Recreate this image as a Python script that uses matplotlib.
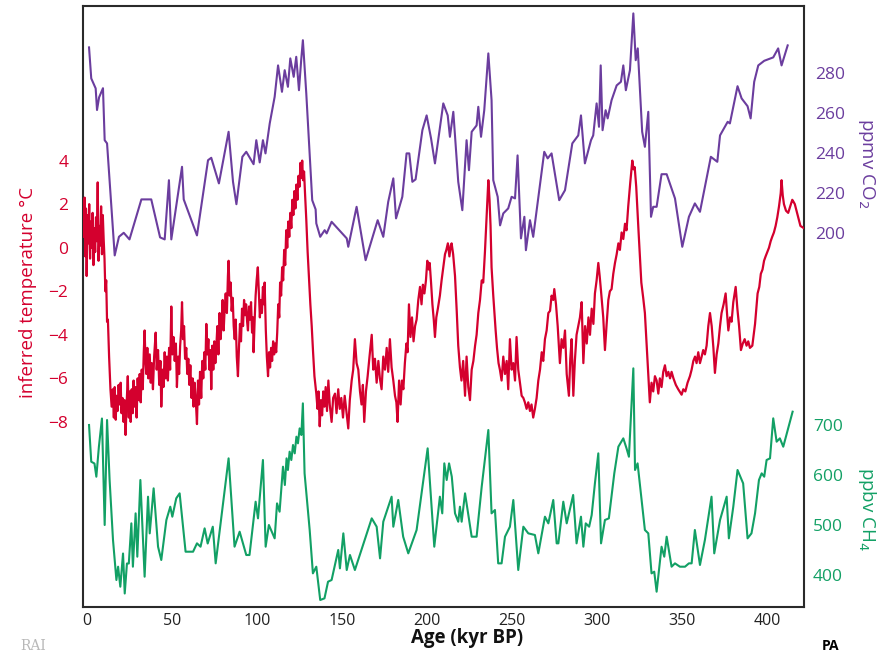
import matplotlib
matplotlib.use("Agg")
import matplotlib.pyplot as plt

plt.rcParams['font.family'] = ['Open Sans', 'DejaVu Sans']

# ---------------- data ----------------
# CO2 (ppmv) : (age kyr BP, value)
co2_points = [
    (1.2, 293), (2.5, 277.5), (5.1, 272.5), (5.9, 261.7), (7.1, 268), (9.4, 272.6), (10.4, 246.6),
    (11.8, 245), (16.3, 189), (18.8, 198.3), (21.6, 200.3), (25.0, 197), (32.0, 217), (37.8, 217),
    (43.0, 198), (45.7, 197), (48.2, 226.6), (49.6, 197), (55.9, 233.3), (56.9, 217), (64.7, 199),
    (71.2, 236.6), (73.1, 237.8), (77.6, 225), (83.3, 250.8), (85.9, 225.8), (87.9, 214.6),
    (91.4, 238.3), (93.7, 240.8), (98.0, 234.6), (99.6, 246.6), (101.6, 235.5), (103.5, 246.6),
    (105.0, 240), (107.5, 255), (110.4, 268.3), (112.4, 284), (114.7, 270.8), (116.3, 281.6),
    (118.2, 273.3), (119.6, 287.5), (121.6, 278.3), (123.1, 288.3), (124.7, 271.6), (126.0, 286.6),
    (127.0, 296.6), (129.0, 270), (132.5, 216.6), (134.5, 212), (134.9, 205), (137.2, 198.3),
    (139.8, 201.6), (141.0, 200), (143.9, 205.8), (152.8, 197.5), (153.7, 193.3), (158.6, 213.3),
    (163.9, 186.6), (171.0, 206.6), (174.3, 198.3), (177.2, 215.8), (180.2, 227.5), (181.8, 207.5),
    (185.5, 218.3), (188.0, 240), (189.6, 240), (191.4, 225.8), (193.3, 227), (197.3, 251.6),
    (199.8, 259), (202.4, 247.5), (204.7, 235), (209.6, 265), (212.2, 259), (213.5, 248.3),
    (215.5, 260.8), (218.4, 225.8), (220.8, 211.6), (223.3, 246.6), (224.7, 231.6), (226.3, 250.8),
    (229.2, 254), (230.2, 263.3), (231.8, 248.3), (233.7, 261.6), (236.1, 290), (238.0, 266.6),
    (239.0, 226.6), (241.6, 218.3), (243.0, 204), (244.9, 210), (247.8, 212.5), (249.8, 218.3),
    (251.8, 217.5), (253.3, 239), (255.3, 197.5), (257.3, 208.3), (258.2, 191.6), (260.6, 206.6),
    (262.5, 198.3), (269.0, 240.8), (271.0, 237.5), (273.3, 240), (277.8, 216.6), (281.2, 221.6),
    (285.5, 245), (289.0, 249), (290.6, 259), (292.9, 235), (296.5, 246.6), (297.8, 249),
    (299.8, 265), (301.2, 253.3), (302.2, 284), (303.3, 251.6), (305.1, 261.6), (306.3, 257.5),
    (308.6, 266.6), (311.6, 274), (314.1, 275.8), (315.5, 284), (317.0, 271.6), (319.4, 281.6),
    (321.4, 310), (322.8, 286.6), (324.0, 292.5), (326.6, 250.8), (328.2, 243.3), (330.2, 260.8),
    (331.8, 208.3), (333.1, 213.3), (335.1, 213.3), (338.0, 229.6), (341.0, 229.6), (345.9, 217.5),
    (350.2, 193.3), (354.1, 208.3), (357.6, 215), (360.6, 210.8), (367.0, 238.3), (370.8, 235.8),
    (372.4, 249), (376.9, 255.8), (378.2, 255), (382.7, 273.6), (385.1, 267.5), (388.6, 263.6),
    (390.4, 257.5), (392.5, 275.8), (394.9, 284), (398.4, 286.3), (403.7, 288), (406.6, 292.5),
    (408.6, 284), (412.2, 294),
]

# inferred temperature (deg C) : (age kyr BP, value)
temp_points = [
    (-1.8, 0.5), (-1.4, 2.3), (-1.0, -0.4), (-0.6, 1.8), (-0.2, -1.3), (0.3, 1.5), (0.8, 0.2),
    (1.3, 2.0), (1.8, -0.5), (2.3, 1.2), (2.8, 0.0), (3.3, 1.6), (3.8, -0.8), (4.3, 0.9),
    (4.8, -0.2), (5.3, 1.4), (5.8, 0.3), (6.3, 3.0), (6.8, -0.6), (7.3, 1.0), (7.8, 0.1),
    (8.3, 1.9), (8.8, -0.3), (9.3, 1.5), (9.8, 0.4), (10.3, -0.5), (10.8, -2.0), (11.3, -1.5),
    (11.8, -3.4), (12.3, -3.3), (13.0, -5.0), (13.8, -6.5),
    (14.5, -7.3), (15.2, -6.5), (15.8, -7.8), (16.3, -6.4), (16.9, -7.9), (17.4, -6.8),
    (18.0, -7.5), (18.6, -6.3), (19.2, -7.2), (19.8, -6.2), (20.3, -7.6), (20.9, -6.9),
    (21.5, -8.0), (22.1, -7.0), (22.7, -8.6), (23.3, -7.2), (24.0, -5.9), (24.6, -7.8),
    (25.2, -6.6), (25.7, -8.0), (26.3, -6.5), (26.9, -7.6), (27.4, -6.1), (28.0, -7.3),
    (28.6, -6.4), (29.2, -7.8), (29.8, -6.0), (30.4, -7.0), (31.0, -5.8), (31.6, -7.1),
    (32.2, -5.6), (32.8, -6.5), (33.4, -4.8), (33.9, -3.8),
    (34.4, -5.2), (34.9, -5.8), (35.5, -4.6), (36.1, -6.0), (36.9, -4.9), (37.5, -6.2),
    (38.1, -5.3), (38.8, -6.5), (39.5, -5.0), (40.4, -3.9), (41.0, -5.6), (41.8, -4.7),
    (42.5, -6.3), (43.2, -5.2), (43.7, -7.3), (44.4, -5.6), (45.0, -6.4), (45.7, -4.8),
    (46.3, -6.0), (47.0, -5.0), (47.6, -6.1), (48.3, -4.6), (48.9, -5.6), (49.6, -2.7),
    (50.2, -4.9), (50.9, -4.1), (51.6, -5.2), (52.3, -4.4), (52.9, -6.4), (53.6, -5.0),
    (54.2, -5.8), (54.8, -4.5), (55.4, -3.8), (55.9, -2.5), (56.5, -4.2), (57.1, -3.6),
    (57.7, -5.1), (58.4, -4.6), (59.0, -5.8),
    (59.6, -5.1), (60.2, -6.3), (60.8, -5.4), (61.5, -6.9), (62.1, -6.0), (62.7, -7.3),
    (63.3, -6.2), (64.0, -7.0), (64.7, -8.1), (65.3, -6.1), (65.9, -7.2), (66.5, -5.7),
    (67.2, -6.9), (67.8, -5.2), (68.4, -6.0), (69.0, -4.8), (69.6, -5.6), (70.2, -3.5),
    (70.8, -4.9), (71.4, -4.2), (72.0, -5.6), (72.6, -4.7), (73.1, -6.5), (73.7, -4.5),
    (74.3, -5.6), (74.9, -4.3), (75.5, -5.3), (76.1, -4.5), (76.7, -3.6), (77.3, -4.9),
    (78.0, -3.0), (78.6, -4.2), (79.2, -3.4), (79.8, -2.4), (80.4, -3.8), (81.0, -2.8),
    (81.6, -2.1), (82.3, -3.0), (82.9, -1.3), (83.3, -0.6), (83.9, -2.2), (84.5, -1.6),
    (85.1, -2.9), (85.7, -2.3), (86.3, -3.6), (86.9, -4.2), (87.5, -3.3), (88.1, -5.0),
    (88.8, -5.9), (89.4, -4.6), (90.0, -3.5), (90.6, -4.3), (91.2, -2.8), (91.8, -3.6),
    (92.4, -2.4), (93.0, -3.1), (93.6, -2.6), (94.2, -3.4), (94.7, -3.8), (95.3, -2.7),
    (95.9, -3.3), (96.5, -2.5), (97.1, -3.9), (97.7, -3.2), (98.0, -4.8), (98.6, -3.4),
    (99.2, -2.2), (99.8, -1.5), (100.5, -0.9), (101.1, -2.1), (101.7, -3.2), (102.3, -2.4),
    (102.9, -3.0), (103.5, -1.8), (104.1, -2.6), (104.5, -1.6), (105.2, -3.8), (105.8, -5.0),
    (106.5, -5.9), (107.1, -4.8), (107.7, -5.5), (108.3, -4.6), (108.9, -5.2), (109.5, -4.3),
    (110.1, -4.9), (110.7, -4.4), (111.3, -4.8),
    (111.9, -3.9), (112.5, -2.6), (113.1, -3.2), (113.6, -1.6), (114.2, -2.2), (114.8, -0.9),
    (115.4, -1.5), (116.0, -0.1), (116.6, -0.8), (117.2, 0.8), (117.8, 0.0), (118.4, 1.2),
    (119.0, 0.5), (119.6, 1.6), (120.2, 0.9), (120.8, 2.2), (121.4, 1.5), (122.0, 2.6),
    (122.6, 1.8), (123.2, 2.9), (123.8, 2.2), (124.4, 3.3), (125.0, 2.8), (125.6, 3.9),
    (126.1, 3.2), (126.6, 4.0), (127.1, 3.1), (127.7, 3.5), (128.2, 2.6), (129.0, 1.3),
    (129.8, -0.2), (130.6, -1.4), (131.4, -2.6), (132.2, -3.6),
    (133.0, -4.8), (133.8, -5.9), (134.9, -6.7), (135.6, -7.4), (136.2, -6.6), (136.9, -8.2),
    (137.6, -7.0), (138.3, -7.7), (139.0, -6.6), (139.7, -7.3), (140.4, -6.4),
    (141.2, -7.5), (142.0, -6.1), (142.8, -7.2), (143.9, -8.0), (144.8, -6.9), (145.9, -6.7),
    (146.8, -7.6), (147.8, -6.5), (148.7, -7.4), (149.6, -6.9), (150.6, -7.8),
    (151.6, -6.8), (152.6, -7.5), (153.7, -8.3), (154.6, -7.0), (155.7, -6.1), (156.6, -5.6),
    (157.6, -4.2), (158.6, -5.3), (159.6, -5.6), (160.6, -6.6), (161.5, -7.2),
    (162.3, -6.3), (163.1, -8.0), (164.1, -6.6), (165.1, -5.9), (166.2, -5.0), (167.5, -4.0),
    (168.4, -5.6), (169.4, -5.1), (170.4, -6.2), (171.4, -5.2), (172.3, -6.0),
    (173.3, -6.5), (174.3, -5.0), (175.3, -5.6), (176.3, -4.6), (177.2, -5.7), (178.2, -4.2),
    (179.2, -5.5), (180.2, -6.1), (181.2, -6.8), (182.0, -7.1), (182.7, -8.0),
    (183.6, -6.1), (184.5, -7.2), (185.3, -6.1), (186.1, -6.5), (187.0, -5.3), (187.9, -4.4),
    (188.6, -4.8), (189.4, -2.6), (190.3, -4.1), (191.2, -3.2), (192.1, -4.3),
    (193.0, -3.6), (193.9, -3.3), (194.9, -2.4), (195.9, -1.8), (196.8, -2.6), (197.6, -1.7),
    (198.5, -2.1), (199.4, -1.5), (200.2, -0.6), (201.0, -1.0), (201.6, -0.7),
    (202.4, -1.6), (203.2, -2.6), (204.0, -3.3), (204.7, -4.1), (205.5, -3.2), (206.4, -2.8),
    (207.6, -2.2), (208.6, -1.5), (209.6, -0.9), (210.6, -0.3), (211.4, -0.1),
    (212.3, 0.2), (213.2, -0.4), (214.0, 0.1), (214.5, 0.2), (215.4, -0.3), (216.5, -1.3),
    (217.5, -2.9), (218.4, -4.5), (219.4, -5.5), (220.3, -6.1), (221.3, -5.2),
    (222.4, -6.8), (223.3, -5.0), (224.3, -6.4), (225.3, -7.0), (226.3, -5.6), (227.3, -5.2),
    (228.3, -4.5), (229.2, -4.0), (230.2, -3.0), (231.2, -2.4), (232.2, -1.5),
    (233.1, -1.6), (234.1, -0.2), (235.1, 1.5), (236.1, 3.1), (236.8, 2.2), (237.4, 1.0),
    (238.0, -0.9), (239.0, -2.2), (240.4, -3.8), (241.2, -4.6), (242.1, -5.3),
    (242.9, -5.6), (243.9, -6.1), (244.9, -5.0), (245.9, -5.8), (246.9, -5.2), (247.8, -6.5),
    (248.8, -4.2), (249.8, -5.6), (250.8, -5.3), (251.8, -6.1), (252.7, -4.1),
    (253.7, -5.6), (254.7, -6.2), (255.7, -6.8), (256.7, -6.9), (257.6, -7.1), (258.6, -7.4),
    (259.6, -7.1), (260.6, -7.5), (261.5, -7.2), (262.5, -7.8), (263.5, -7.4),
    (264.5, -6.9), (265.5, -6.1), (266.5, -5.6), (267.5, -4.8), (268.4, -5.2), (269.4, -4.2),
    (270.4, -3.8), (271.4, -3.0), (272.4, -2.9), (273.3, -2.2), (274.3, -2.4),
    (274.9, -1.9), (275.9, -2.6), (276.9, -3.6), (278.2, -5.3), (279.2, -4.2), (280.2, -4.6),
    (281.2, -3.8), (282.2, -5.8), (283.5, -6.8), (284.3, -5.1), (285.1, -4.2),
    (286.1, -6.8), (287.0, -5.2), (288.0, -4.0), (289.0, -3.6), (290.0, -3.2), (291.0, -2.5),
    (292.0, -5.3), (293.0, -3.6), (294.0, -4.4), (295.0, -3.2), (295.9, -4.0),
    (296.9, -2.8), (297.9, -3.5), (298.8, -2.1), (299.8, -1.5), (300.8, -0.7), (301.6, -1.3),
    (302.4, -2.0), (303.7, -3.2), (304.7, -4.7), (305.7, -3.5), (306.7, -2.4),
    (307.6, -2.0), (308.6, -1.9), (309.6, -1.2), (310.6, -0.7), (311.6, -0.3), (312.6, 0.2),
    (313.5, -0.1), (314.5, 0.7), (315.5, 0.4), (316.5, 1.1), (317.4, 0.8),
    (318.4, 1.9), (319.6, 3.0), (320.8, 4.0), (321.5, 3.6), (322.2, 3.7), (323.1, 2.8),
    (324.5, 0.7), (326.1, -1.6), (327.2, -2.3), (328.2, -3.0), (329.8, -5.3),
    (331.1, -7.1), (332.1, -6.2), (333.1, -6.6), (334.1, -5.9), (335.1, -6.1), (336.1, -6.7),
    (337.0, -6.0), (338.0, -6.4), (339.0, -5.7), (340.0, -5.4), (341.0, -5.9),
    (342.0, -5.7), (343.0, -6.0), (343.9, -5.7), (345.0, -6.0), (346.4, -6.3), (347.8, -6.5),
    (349.8, -6.75), (350.8, -6.5), (352.0, -6.6), (353.3, -6.2), (354.7, -5.9),
    (355.7, -5.6), (356.7, -5.2), (357.7, -5.0), (358.6, -5.3), (359.6, -4.8), (360.6, -5.3),
    (361.6, -5.0), (362.5, -4.7), (363.5, -4.9), (364.5, -4.5), (365.5, -3.6),
    (366.5, -3.0), (367.5, -3.6), (368.5, -4.6), (369.4, -5.75), (370.4, -4.9), (371.4, -4.4),
    (372.4, -3.6), (373.3, -3.0), (374.5, -2.6), (375.7, -2.1), (376.5, -3.0),
    (377.3, -3.8), (378.3, -3.2), (379.2, -3.4), (380.2, -2.5), (381.6, -1.8), (382.6, -2.8),
    (383.6, -3.6), (384.7, -4.7), (385.8, -4.4), (386.9, -4.2), (388.0, -4.5),
    (389.0, -4.3), (390.0, -4.6), (391.4, -4.5), (392.2, -4.0), (393.0, -3.5), (394.5, -2.1),
    (395.5, -1.8), (396.4, -1.2), (397.4, -1.0), (398.3, -0.6), (399.2, -0.4),
    (400.2, -0.2), (401.2, 0.0), (402.2, 0.3), (403.1, 0.5), (404.1, 0.7), (405.1, 1.0),
    (406.1, 1.4), (407.1, 1.9), (408.1, 2.5), (408.6, 3.1), (409.3, 2.4),
    (410.0, 2.0), (411.2, 1.7), (412.5, 1.6), (413.7, 1.9), (414.9, 2.2), (415.7, 2.1),
    (416.4, 2.0), (417.4, 1.7), (418.4, 1.4), (419.7, 1.0), (421.7, 0.9),
]

# CH4 (ppbv) : (age kyr BP, value)
ch4_points = [
    (1.2, 700), (2.5, 626.6), (4.4, 623), (5.5, 596.6), (7.0, 656.6), (8.8, 713), (10.4, 500),
    (11.8, 710), (13.3, 590), (15.3, 470), (17.3, 390), (18.3, 416.6), (19.6, 376.6), (21.2, 443),
    (22.2, 363), (23.5, 423), (24.6, 423), (26.1, 503.3), (27.0, 416.6), (28.6, 523.3),
    (29.6, 436.6), (31.4, 590), (33.9, 396.6), (35.9, 556.6), (36.9, 483.3), (39.2, 573.3),
    (41.8, 456.6), (43.7, 430), (46.7, 510), (49.0, 536.6), (50.2, 516.6), (52.5, 553.3),
    (54.5, 563.3), (58.0, 446.6), (62.4, 446.6), (64.7, 463.3), (66.8, 456.6), (69.2, 493.3),
    (71.0, 463), (74.0, 496.6), (75.7, 423.3), (83.3, 633.3), (86.8, 456.6), (89.8, 486.6),
    (93.7, 440), (95.6, 440), (99.2, 546.6), (100.6, 513.3), (103.5, 630), (105.1, 456.6),
    (107.0, 500), (110.4, 473.3), (111.8, 543.3), (113.3, 526.6), (115.3, 616.6), (116.4, 580),
    (117.4, 633.3), (118.2, 610), (119.2, 646.6), (120.2, 630), (121.2, 660), (122.2, 643.3),
    (123.2, 676.6), (124.1, 663.3), (125.1, 693.3), (126.1, 680), (127.0, 743.3), (128.0, 603.3),
    (131.0, 490), (132.9, 403.3), (134.9, 416.6), (137.2, 350), (139.7, 353.3), (141.8, 386.6),
    (143.9, 390), (147.8, 450), (148.8, 413.3), (150.8, 483.3), (152.8, 410), (154.7, 440),
    (157.6, 410), (167.5, 513.3), (170.4, 496.6), (172.4, 433.3), (174.3, 506.6), (179.2, 556.6),
    (180.2, 496.6), (183.1, 550), (186.0, 476.6), (189.0, 443.3), (193.9, 490), (200.4, 653.3),
    (204.3, 456.6), (207.6, 556.6), (209.0, 523.3), (210.2, 623.3), (211.6, 590), (213.0, 623.3),
    (214.6, 596.6), (216.5, 523.3), (218.4, 506.6), (219.4, 536.6), (220.4, 506.6),
    (222.4, 563.3), (226.3, 476.6), (229.2, 476.6), (232.2, 576.6), (236.1, 690), (238.0, 523.3),
    (240.0, 530), (241.9, 423.3), (243.9, 423.3), (245.9, 476.6), (248.8, 496.6), (250.8, 550),
    (253.7, 410), (256.7, 496.6), (259.6, 483.3), (263.5, 480), (265.5, 443.3), (269.4, 516.6),
    (271.4, 503.3), (274.3, 550), (276.3, 463.3), (277.3, 463.3), (280.2, 546.6), (282.2, 503.3),
    (286.0, 560), (288.0, 463.3), (290.6, 516.6), (292.0, 456.6), (293.4, 503.3), (295.4, 496.6),
    (296.9, 520), (298.8, 583.3), (300.8, 643.3), (302.4, 463.3), (304.7, 510), (307.0, 513.3),
    (310.2, 603.3), (312.6, 656.6), (315.5, 673.3), (317.4, 653.3), (318.8, 636.6),
    (321.4, 813.3), (322.4, 610), (323.9, 623.3), (328.2, 490), (330.2, 483.3), (332.1, 403.3),
    (333.7, 406.6), (335.1, 366.6), (338.0, 456.6), (339.6, 436.6), (341.0, 476.6),
    (343.9, 416.6), (345.9, 423.3), (348.8, 416.6), (351.8, 416.6), (354.1, 423.3),
    (355.7, 423.3), (357.6, 490), (360.6, 420), (363.5, 470), (367.4, 556.6), (369.0, 443.3),
    (372.4, 510), (376.3, 556.6), (377.6, 473.3), (380.2, 536.6), (382.7, 610), (386.0, 583.3),
    (388.6, 473.3), (390.9, 483.3), (393.0, 523.3), (395.3, 590), (396.9, 603.3), (398.4, 596.6),
    (399.8, 630), (401.8, 633.3), (403.7, 713.3), (405.7, 666.6), (407.6, 673.3), (409.6, 656.6),
    (415.1, 726.6),
]

x_ticks = [0, 50, 100, 150, 200, 250, 300, 350, 400]
temp_ticks = [-8, -6, -4, -2, 0, 2, 4]
co2_ticks = [200, 220, 240, 260, 280]
ch4_ticks = [400, 500, 600, 700]

co2_age, co2_ppmv = zip(*co2_points)
temp_age, temp_c = zip(*temp_points)
ch4_age, ch4_ppbv = zip(*ch4_points)

RED = '#d4002e'
PURPLE = '#6b3d9e'
GREEN = '#12a065'

# ---------------- figure ----------------
fig = plt.figure(figsize=(8.81, 6.54), dpi=100)
ax = fig.add_axes([83 / 881, 47 / 654, 721 / 881, 601 / 654])
ax2 = ax.twinx()
ax3 = ax.twinx()

ax.plot(temp_age, temp_c, color=RED, lw=1.6, zorder=3)
ax2.plot(co2_age, co2_ppmv, color=PURPLE, lw=1.5)
ax3.plot(ch4_age, ch4_ppbv, color=GREEN, lw=1.5)

ax.set_xlim(-2.35, 421.8)
ax.set_ylim(-16.5, 11.1)
ax2.set_ylim(13.2, 313.7)
ax3.set_ylim(336, 1538)

ax.set_xticks(x_ticks)
ax.set_yticks(temp_ticks)
ax2.set_yticks(co2_ticks)
ax3.set_yticks(ch4_ticks)

ax.tick_params(axis='x', length=0, pad=4, labelsize=11.5, labelcolor='#222222')
ax.tick_params(axis='y', length=0, pad=10.5, labelsize=12.5, labelcolor=RED)
ax2.tick_params(axis='y', length=0, pad=8, labelsize=12.5, labelcolor=PURPLE)
ax3.tick_params(axis='y', length=0, pad=6.5, labelsize=12.5, labelcolor=GREEN)

for s in ax.spines.values():
    s.set_color('#2a2a2a')
    s.set_linewidth(1.5)
for a in (ax2, ax3):
    for s in a.spines.values():
        s.set_visible(False)

fig.text(467 / 881, 1 - 638 / 654, 'Age (kyr BP)', ha='center', va='center',
         fontsize=13.5, fontweight='bold', color='#111111')

fig.text(28 / 881, 1 - 292 / 654, 'inferred temperature °C', rotation=90,
         ha='center', va='center', color=RED, fontsize=13.5)
fig.text(866 / 881, 1 - 163 / 654, 'ppmv CO$_2$', rotation=270,
         ha='center', va='center', color=PURPLE, fontsize=13.5)
fig.text(867 / 881, 1 - 509 / 654, 'ppbv CH$_4$', rotation=270,
         ha='center', va='center', color=GREEN, fontsize=13.5)

# small logo texts at the bottom corners
fig.text(20 / 881, 1 - 653 / 654, 'RAI', ha='left', va='bottom', color='#b8b8b8',
         fontsize=10, family='DejaVu Serif')
fig.text(822 / 881, 1 - 653 / 654, 'PA', ha='left', va='bottom', color='black',
         fontsize=10, fontweight='bold')

fig.savefig('out.png', dpi=100)
